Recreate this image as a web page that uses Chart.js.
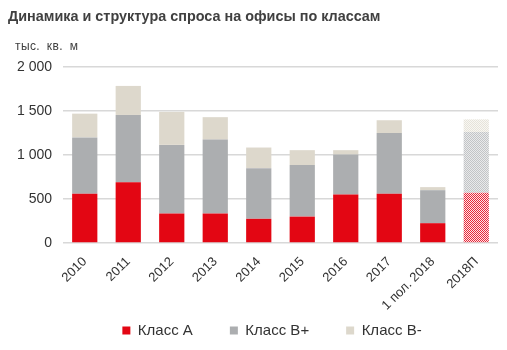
<!DOCTYPE html>
<html>
<head>
<meta charset="utf-8">
<script src="https://cdn.jsdelivr.net/npm/chart.js@4"></script>
<style>
  body { margin: 0; background: #fff; font-family: "Liberation Sans", Arial, sans-serif; }
  .wrap { position: relative; width: 507px; height: 350px; }
  .title { position: absolute; left: 8px; top: 8px; font-size: 14.4px; font-weight: bold; color: #404040; }
  .unit { position: absolute; left: 15px; top: 39px; font-size: 12px; letter-spacing: 0.4px; word-spacing: 3px; color: #404040; }
  canvas { position: absolute; left: 0; top: 0; }
</style>
</head>
<body>
<div class="wrap">
  <canvas id="myChart" width="507" height="350"></canvas>
  <div class="title">Динамика и структура спроса на офисы по классам</div>
  <div class="unit">тыс. кв. м</div>
</div>
<script>
// данные, тыс. кв. м
const years = ["2010", "2011", "2012", "2013", "2014", "2015", "2016", "2017", "1 пол. 2018", "2018П"];
const classA = [560, 690, 335, 335, 275, 300, 550, 560, 225, 570];
const classBplus = [640, 765, 780, 840, 575, 585, 455, 690, 375, 690];
const classBminus = [270, 330, 375, 255, 235, 170, 50, 145, 35, 145];
const yTicks = [0, 500, 1000, 1500, 2000];

// прогноз рисуем точками
function dither(c1, c2) {
    const c = document.createElement("canvas");
    c.width = 2;
    c.height = 2;
    const x = c.getContext("2d");
    x.fillStyle = c2;
    x.fillRect(0, 0, 2, 2);
    x.fillStyle = c1;
    x.fillRect(0, 0, 1, 1);
    x.fillRect(1, 1, 1, 1);
    return x.createPattern(c, "repeat");
}

function colors(solid, pattern) {
    return years.map((y, i) => i == years.length - 1 ? pattern : solid);
}

const red = "#e30613";
const gray = "#acaeb0";
const beige = "#ddd8cc";

// легенда ближе к подписям оси и чуть правее центра
const legendMove = {
    id: "legendMove",
    afterLayout(chart) {
        const lg = chart.legend;
        const h = lg.bottom - lg.top;
        lg.top = 286;
        lg.bottom = 286 + h;
        lg.left += 23;
        lg.right += 23;
    }
};

const ctx = document.getElementById("myChart");
const chart = new Chart(ctx, {
    type: "bar",
    data: {
        labels: years,
        datasets: [
            { label: "Класс А", data: classA, backgroundColor: colors(red, dither("#e8283a", "#fde6e8")) },
            { label: "Класс B+", data: classBplus, backgroundColor: colors(gray, dither("#c2c4c6", "#e9eaeb")) },
            { label: "Класс B-", data: classBminus, backgroundColor: colors(beige, dither("#e6e3da", "#f8f7f3")) }
        ]
    },
    plugins: [legendMove],
    options: {
        responsive: false,
        animation: false,
        layout: { padding: { top: 67, right: 9, bottom: -30, left: 0 } },
        datasets: { bar: { categoryPercentage: 1, barPercentage: 0.58 } },
        plugins: {
            tooltip: { enabled: false },
            legend: {
                position: "bottom",
                labels: {
                    usePointStyle: true,
                    pointStyle: "rect",
                    boxWidth: 8,
                    boxHeight: 8,
                    padding: 37,
                    color: "#333",
                    font: { family: "Liberation Sans", size: 15 }
                }
            }
        },
        scales: {
            x: {
                stacked: true,
                grid: { display: false },
                border: { display: false },
                ticks: {
                    minRotation: 45,
                    maxRotation: 45,
                    color: "#333",
                    font: { family: "Liberation Sans", size: 13 }
                },
                afterFit: s => { s.height = 75; }
            },
            y: {
                stacked: true,
                min: 0,
                max: 2000,
                afterBuildTicks: s => { s.ticks = yTicks.map(v => ({ value: v })); },
                grid: { color: "#d8d8d8", lineWidth: 1.5, drawTicks: false },
                border: { display: false },
                ticks: {
                    padding: 11,
                    color: "#333",
                    font: { family: "Liberation Sans", size: 14 },
                    callback: v => String(v).replace(/\B(?=(\d{3})+(?!\d))/g, " ")
                },
                afterFit: s => { s.width = 63; }
            }
        }
    }
});
</script>
</body>
</html>
